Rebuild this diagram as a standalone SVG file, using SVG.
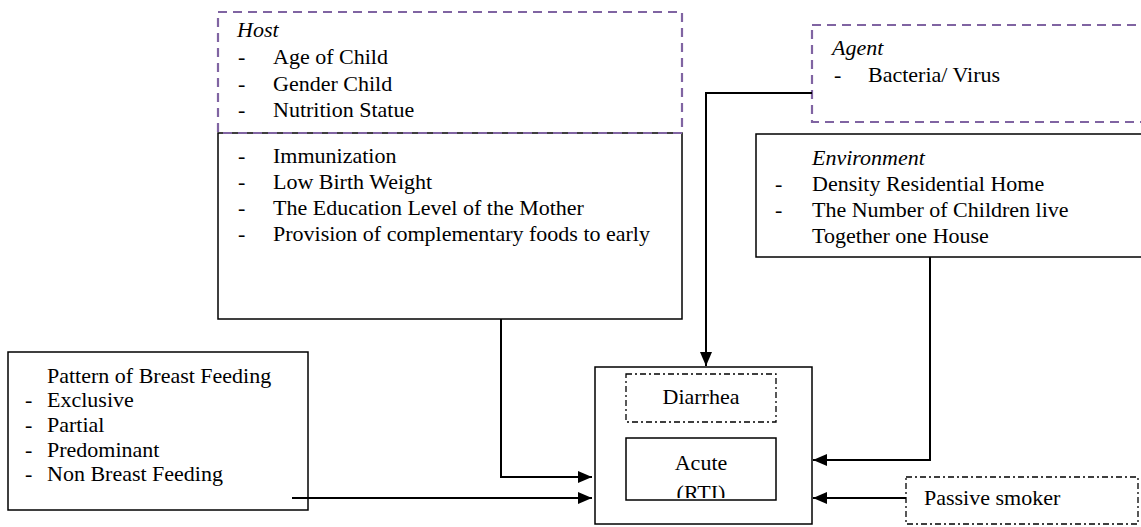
<svg xmlns="http://www.w3.org/2000/svg" width="1141" height="527" viewBox="0 0 1141 527">
<style>
  text { font-family: "Liberation Serif", "Times New Roman", serif; font-size: 22px; fill: #000; }
  .it { font-style: italic; }
  .mid { text-anchor: middle; }
  .solid { fill: #fff; stroke: #000; stroke-width: 1.5; }
  .purple { fill: none; stroke: #8064A2; stroke-width: 2.2; stroke-dasharray: 9 6; }
  .dashdot { fill: #fff; stroke: #000; stroke-width: 1.3; stroke-dasharray: 6 3 2 3; }
  .conn { fill: none; stroke: #000; stroke-width: 2; }
</style>
<defs>
  <marker id="arrow" viewBox="0 0 14 12" refX="14" refY="6" markerWidth="14" markerHeight="12" markerUnits="userSpaceOnUse" orient="auto">
    <path d="M0,0 L14,6 L0,12 z" fill="#000"/>
  </marker>
  <clipPath id="acuteClip"><rect x="626" y="438" width="150" height="60"/></clipPath>
</defs>
<rect x="0" y="0" width="1141" height="527" fill="#fff"/>

<g id="host">
  <rect class="solid" x="218" y="133" width="464" height="186"/>
  <rect class="purple" x="218" y="12" width="464" height="121"/>
  <text class="it" x="237" y="37">Host</text>
  <text x="238" y="64">-</text><text x="273" y="64">Age of Child</text>
  <text x="238" y="91">-</text><text x="273" y="91">Gender Child</text>
  <text x="238" y="117">-</text><text x="273" y="117">Nutrition Statue</text>
  <text x="238" y="163">-</text><text x="273" y="163">Immunization</text>
  <text x="238" y="189">-</text><text x="273" y="189">Low Birth Weight</text>
  <text x="238" y="215">-</text><text x="273" y="215">The Education Level of the Mother</text>
  <text x="238" y="241">-</text><text x="273" y="241">Provision of complementary foods to early</text>
</g>

<g id="agent">
  <rect class="purple" x="812" y="25" width="345" height="97"/>
  <text class="it" x="832" y="55">Agent</text>
  <text x="834" y="82">-</text><text x="868" y="82">Bacteria/ Virus</text>
</g>

<g id="environment">
  <rect class="solid" x="756" y="134" width="400" height="123"/>
  <text class="it" x="812" y="165">Environment</text>
  <text x="775" y="191">-</text><text x="812" y="191">Density Residential Home</text>
  <text x="775" y="217">-</text><text x="812" y="217">The Number of Children live</text>
  <text x="812" y="243">Together one House</text>
</g>

<g id="breastfeeding">
  <rect class="solid" x="8" y="352" width="300" height="158"/>
  <text x="47" y="383">Pattern of Breast Feeding</text>
  <text x="25" y="407">-</text><text x="47" y="407">Exclusive</text>
  <text x="25" y="432">-</text><text x="47" y="432">Partial</text>
  <text x="25" y="457">-</text><text x="47" y="457">Predominant</text>
  <text x="25" y="481">-</text><text x="47" y="481">Non Breast Feeding</text>
</g>

<g id="outcome">
  <rect class="solid" x="595" y="367" width="217" height="157"/>
  <g id="diarrhea">
    <rect class="dashdot" x="626" y="374" width="150" height="48"/>
    <text class="mid" x="701" y="404">Diarrhea</text>
  </g>
  <g id="acute">
    <rect class="solid" x="626" y="438" width="150" height="62"/>
    <g clip-path="url(#acuteClip)">
      <text class="mid" x="701" y="470">Acute</text>
      <text class="mid" x="701" y="500">(RTI)</text>
    </g>
  </g>
</g>

<g id="passive">
  <rect class="dashdot" x="906" y="477" width="232" height="47"/>
  <text x="924" y="505">Passive smoker</text>
</g>

<g id="connectors">
  <polyline class="conn" points="501,319 501,477 592,477" marker-end="url(#arrow)"/>
  <line class="conn" x1="292" y1="498" x2="592" y2="498" marker-end="url(#arrow)"/>
  <polyline class="conn" points="812,93 706,93 706,366" marker-end="url(#arrow)"/>
  <polyline class="conn" points="930,257 930,460 813,460" marker-end="url(#arrow)"/>
  <line class="conn" x1="906" y1="498" x2="813" y2="498" marker-end="url(#arrow)"/>
</g>
</svg>
